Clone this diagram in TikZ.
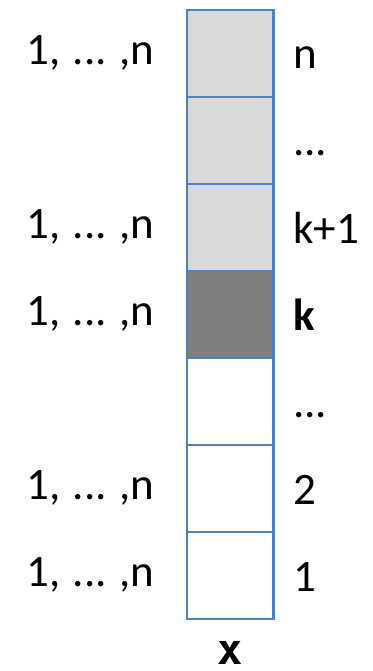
\documentclass[tikz,border=0pt]{standalone}
\usepackage{fontspec}
\setmainfont{Carlito}
\newfontfamily\xfont{DejaVu Sans Mono}
\definecolor{cellblue}{HTML}{4F81BD}
\definecolor{lightcell}{HTML}{D9D9D9}
\definecolor{darkcell}{HTML}{7F7F7F}
\newcommand{\rng}{1,\hspace{12.5pt}...\hspace{12.5pt},n}
\begin{document}
\begin{tikzpicture}[x=1pt,y=-1pt,
  cellbox/.style={draw=cellblue,line width=2.2pt,minimum width=86.5pt,minimum height=87pt,inner sep=0pt,outer sep=0pt},
  lbl/.style={font=\fontsize{45}{54}\selectfont,inner sep=0pt},
  llbl/.style={lbl,anchor=base west},
  rlbl/.style={lbl,anchor=base west}]
\useasboundingbox (0,0) rectangle (372,671);
\node[cellbox,fill=lightcell] (c7) at (230.3,53.2) {};
\node[cellbox,fill=lightcell] (c6) at (230.3,140.2) {};
\node[cellbox,fill=lightcell] (c5) at (230.3,227.2) {};
\node[cellbox,fill=darkcell] (c4) at (230.3,314.2) {};
\node[cellbox,fill=white] (c3) at (230.3,401.2) {};
\node[cellbox,fill=white] (c2) at (230.3,488.2) {};
\node[cellbox,fill=white] (c1) at (230.3,575.2) {};
\node[llbl] (l7) at (26,64.5) {\rng};
\node[llbl] (l5) at (26,238.5) {\rng};
\node[llbl] (l4) at (26,325.5) {\rng};
\node[llbl] (l2) at (26,499.5) {\rng};
\node[llbl] (l1) at (26,586.5) {\rng};
\node[rlbl] (r7) at (293,69) {n};
\node[rlbl] (r6) at (293,156) {...};
\node[rlbl] (r5) at (293,243) {k+1};
\node[rlbl] (r4) at (293,330) {\textbf{k}};
\node[rlbl] (r3) at (293,417) {...};
\node[rlbl] (r2) at (293,504) {2};
\node[rlbl] (r1) at (293,591) {1};
\node[font=\xfont\bfseries\fontsize{42}{48}\selectfont,inner sep=0pt,anchor=base] (xl) at (230.3,664) {x};
\end{tikzpicture}
\end{document}
